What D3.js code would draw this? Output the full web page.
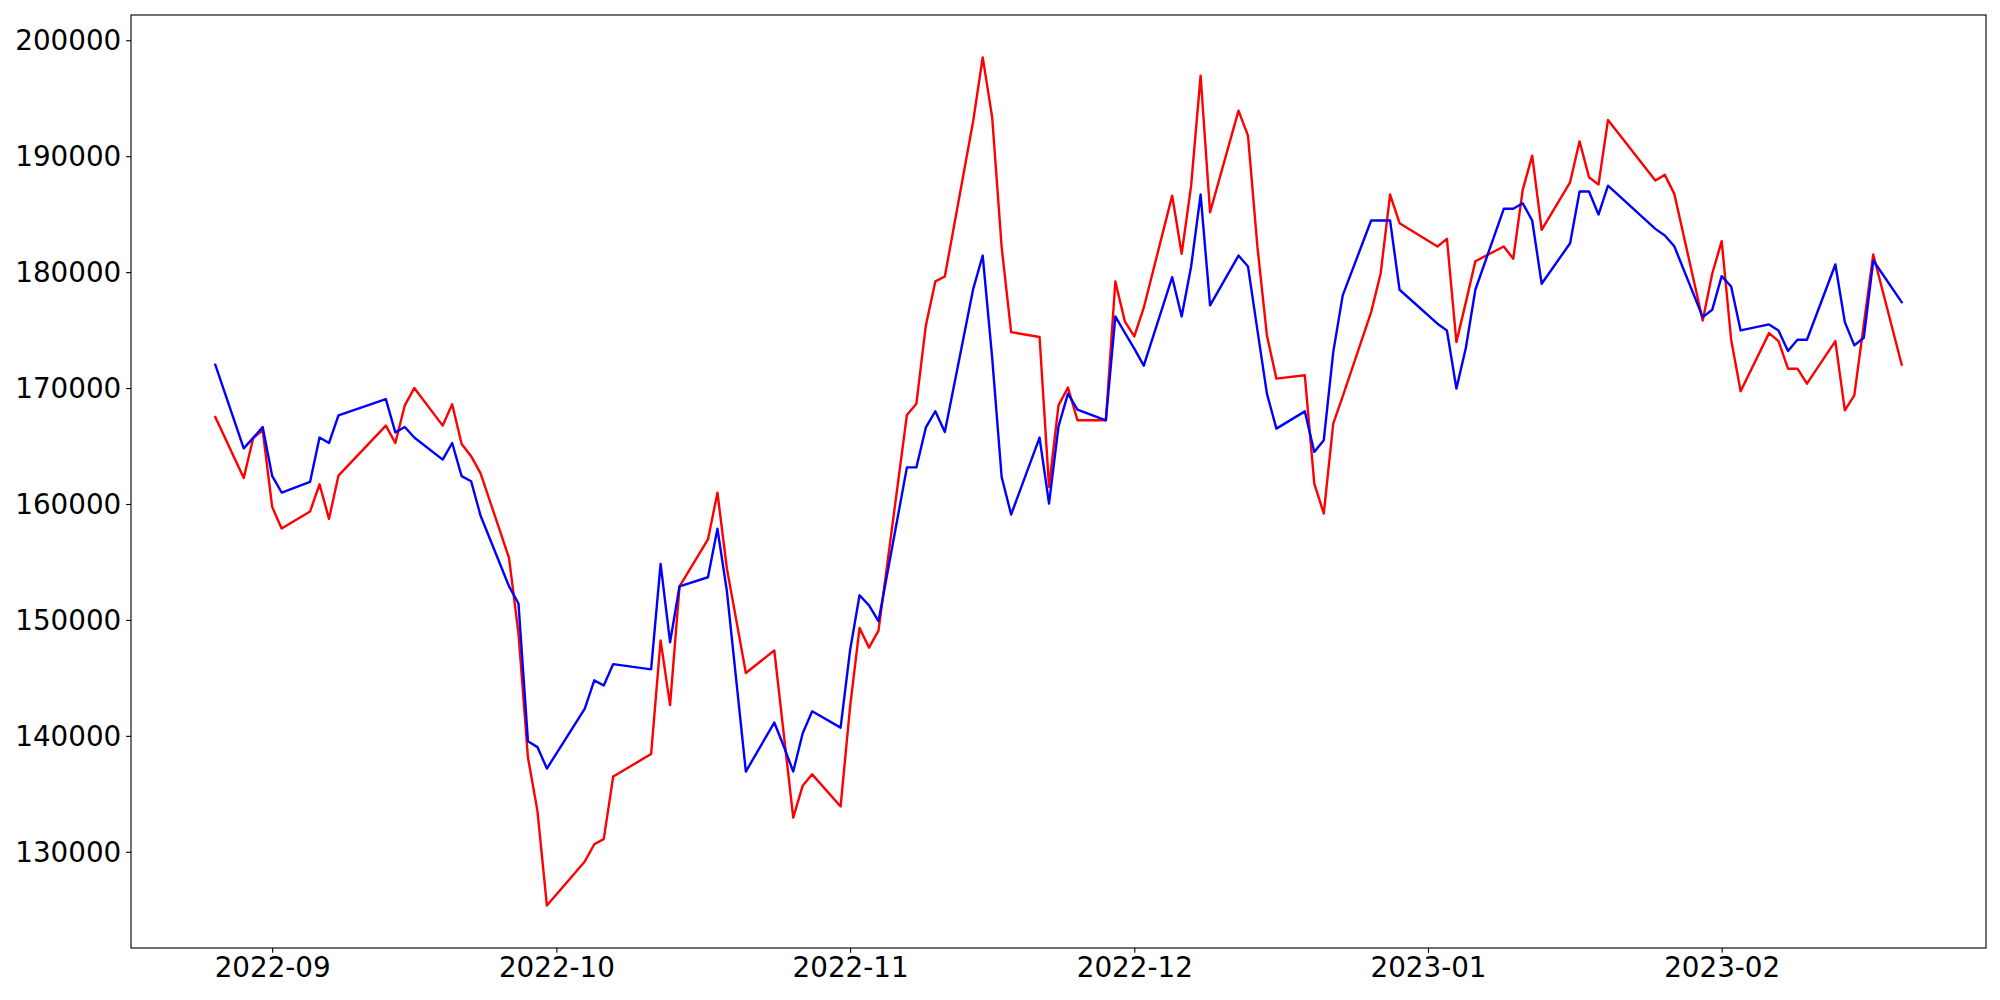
<!DOCTYPE html>
<html>
<head>
<meta charset="utf-8">
<script src="https://cdn.jsdelivr.net/npm/d3@7"></script>
<style>
  html, body { margin: 0; padding: 0; background: #ffffff; }
  svg { display: block; }
  text { font-family: "DejaVu Sans", sans-serif; }
</style>
</head>
<body>
<svg id="chart" width="2000" height="1000"></svg>
<script>
const dates = [
  "2022-08-26","2022-08-29","2022-08-30","2022-08-31","2022-09-01","2022-09-02",
  "2022-09-05","2022-09-06","2022-09-07","2022-09-08","2022-09-13","2022-09-14",
  "2022-09-15","2022-09-16","2022-09-19","2022-09-20","2022-09-21","2022-09-22",
  "2022-09-23","2022-09-26","2022-09-27","2022-09-28","2022-09-29","2022-09-30",
  "2022-10-04","2022-10-05","2022-10-06","2022-10-07","2022-10-11","2022-10-12",
  "2022-10-13","2022-10-14","2022-10-17","2022-10-18","2022-10-19","2022-10-20",
  "2022-10-21","2022-10-24","2022-10-25","2022-10-26","2022-10-27","2022-10-28",
  "2022-10-31","2022-11-01","2022-11-02","2022-11-03","2022-11-04","2022-11-07",
  "2022-11-08","2022-11-09","2022-11-10","2022-11-11","2022-11-14","2022-11-15",
  "2022-11-16","2022-11-17","2022-11-18","2022-11-21","2022-11-22","2022-11-23",
  "2022-11-24","2022-11-25","2022-11-28","2022-11-29","2022-11-30","2022-12-01",
  "2022-12-02","2022-12-05","2022-12-06","2022-12-07","2022-12-08","2022-12-09",
  "2022-12-12","2022-12-13","2022-12-14","2022-12-15","2022-12-16","2022-12-19",
  "2022-12-20","2022-12-21","2022-12-22","2022-12-23","2022-12-26","2022-12-27",
  "2022-12-28","2022-12-29","2023-01-02","2023-01-03","2023-01-04","2023-01-05",
  "2023-01-06","2023-01-09","2023-01-10","2023-01-11","2023-01-12","2023-01-13",
  "2023-01-16","2023-01-17","2023-01-18","2023-01-19","2023-01-20","2023-01-25",
  "2023-01-26","2023-01-27","2023-01-30","2023-01-31","2023-02-01","2023-02-02",
  "2023-02-03","2023-02-06","2023-02-07","2023-02-08","2023-02-09","2023-02-10",
  "2023-02-13","2023-02-14","2023-02-15","2023-02-16","2023-02-17","2023-02-20"
];

const redSeries = [
  167500,162250,165700,166360,159750,157890,
  159350,161700,158720,162450,166760,165260,
  168510,170000,166760,168600,165170,164125,
  162640,155360,148830,138130,133530,125360,
  129160,130650,131090,136500,138430,148240,
  142650,152900,156940,160970,154415,149940,
  145420,147370,140170,132940,135700,136680,
  133910,142510,149300,147610,149070,167680,
  168650,175400,179200,179620,193060,198520,
  193350,182150,174830,174400,161470,168510,
  170040,167220,167220,179190,175750,174450,
  176930,186600,181580,187460,196940,185160,
  193930,191770,182150,174540,170810,171100,
  161760,159180,166930,169290,176550,179860,
  186690,184220,182210,182870,173960,177410,
  180940,182210,181150,187090,190050,183650,
  187750,191280,188180,187550,193120,187900,
  188390,186750,175830,179860,182670,174170,
  169720,174740,174050,171670,171670,170380,
  174050,168080,169370,175500,181520,172020
];

const blueSeries = [
  172000,164800,165700,166640,162420,160990,
  161900,165730,165260,167650,169050,166180,
  166640,165730,163830,165260,162400,161960,
  158990,152900,151420,139530,139030,137180,
  142350,144790,144340,146190,145740,154830,
  148080,152900,153680,157860,152470,144700,
  136920,141150,139100,136920,140230,142120,
  140710,147370,152130,151250,149890,163160,
  163160,166600,168000,166210,178560,181430,
  172600,162330,159090,165730,160040,166700,
  169520,168140,167220,176180,174770,173400,
  171930,179560,176180,180490,186690,177130,
  181430,180490,174970,169520,166500,167990,
  164490,165500,173100,177990,184450,184450,
  184450,178480,175550,174970,169950,173480,
  178480,185460,185460,185940,184450,179000,
  182490,186950,186950,184970,187460,183730,
  183160,182230,176120,176750,179650,178760,
  174970,175490,174970,173190,174170,174170,
  180660,175690,173680,174340,181000,177410
];

const yTickValues = [130000, 140000, 150000, 160000, 170000, 180000, 190000, 200000];
const xTickDates = ["2022-09-01","2022-10-01","2022-11-01","2022-12-01","2023-01-01","2023-02-01"];
const xTickLabels = ["2022-09","2022-10","2022-11","2022-12","2023-01","2023-02"];

(function () {
const parse = d3.utcParse("%Y-%m-%d");
const rows = dates.map((d, i) => ({ date: parse(d), red: redSeries[i], blue: blueSeries[i] }));

const W = 2000, H = 1000;
const mLeft = 131, mRight = 1986, mTop = 15, mBottom = 948;
const pt = 100 / 72;
const lineW = 2.4;

// matplotlib-like 5% margins
const [x0, x1] = d3.extent(rows, d => d.date);
const xPad = (x1 - x0) * 0.05;
const allVals = redSeries.concat(blueSeries);
const [y0, y1] = d3.extent(allVals);
const yPad = (y1 - y0) * 0.05;

const x = d3.scaleUtc().domain([new Date(+x0 - xPad), new Date(+x1 + xPad)]).range([mLeft, mRight]);
const y = d3.scaleLinear().domain([y0 - yPad, y1 + yPad]).range([mBottom, mTop]);

const svg = d3.select("#chart");
svg.append("rect").attr("width", W).attr("height", H).attr("fill", "#ffffff");

svg.append("clipPath").attr("id", "plotclip")
  .append("rect").attr("x", mLeft).attr("y", mTop).attr("width", mRight - mLeft).attr("height", mBottom - mTop);

const line = key => d3.line().x(d => x(d.date)).y(d => y(d[key]));

const g = svg.append("g").attr("clip-path", "url(#plotclip)");
g.append("path").datum(rows).attr("d", line("red"))
  .attr("fill", "none").attr("stroke", "#ff0000").attr("stroke-width", lineW)
  .attr("stroke-linejoin", "round").attr("stroke-linecap", "square");
g.append("path").datum(rows).attr("d", line("blue"))
  .attr("fill", "none").attr("stroke", "#0000ff").attr("stroke-width", lineW)
  .attr("stroke-linejoin", "round").attr("stroke-linecap", "square");

const tickLen = 3.5 * pt, tickPad = 3.5 * pt, fontSize = 20 * pt;

const xAxis = d3.axisBottom(x)
  .tickValues(xTickDates.map(parse))
  .tickFormat((d, i) => xTickLabels[i])
  .tickSizeInner(tickLen).tickSizeOuter(0).tickPadding(tickPad);
const gx = svg.append("g").attr("transform", `translate(0,${mBottom})`).call(xAxis);

const yAxis = d3.axisLeft(y)
  .tickValues(yTickValues)
  .tickFormat(d3.format("d"))
  .tickSizeInner(tickLen).tickSizeOuter(0).tickPadding(tickPad);
const gy = svg.append("g").attr("transform", `translate(${mLeft},0)`).call(yAxis);

[gx, gy].forEach(a => {
  a.select(".domain").remove();
  a.selectAll(".tick line").attr("stroke", "#000").attr("stroke-width", 0.8 * pt);
  a.selectAll(".tick text").attr("fill", "#000")
    .style("font-family", "'DejaVu Sans', sans-serif").style("font-size", fontSize + "px");
});
gy.selectAll(".tick text").attr("dy", "0.35em");

// frame (spines)
svg.append("rect").attr("x", mLeft).attr("y", mTop)
  .attr("width", mRight - mLeft).attr("height", mBottom - mTop)
  .attr("fill", "none").attr("stroke", "#000").attr("stroke-width", 0.8 * pt);
})();
</script>
</body>
</html>
